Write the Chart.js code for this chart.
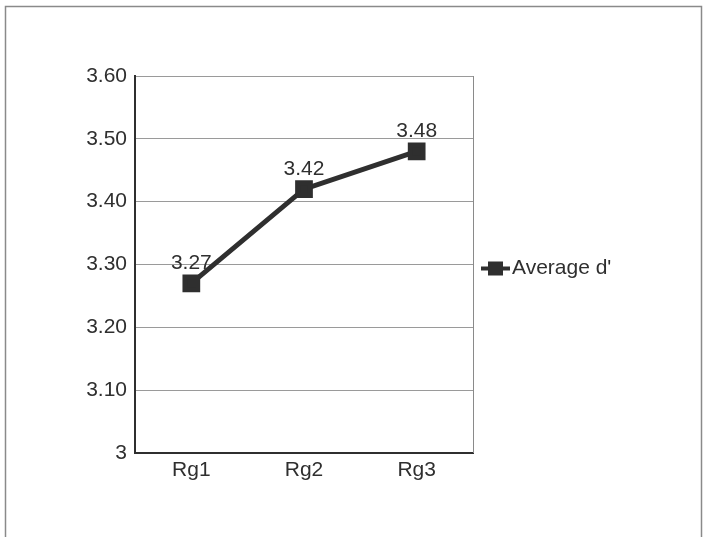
<!DOCTYPE html>
<html lang="en">
<head>
  <meta charset="UTF-8">
  <title>Average d'</title>
  <style>
    html, body { margin: 0; padding: 0; background: #fff; }
    .chart-box { width: 707px; height: 537px; }
  </style>
</head>
<body>
  <div class="chart-box">
    <canvas id="avgChart"></canvas>
  </div>

  <script src="https://cdn.jsdelivr.net/npm/chart.js"></script>
  <script>
    // data
    const categories = ['Rg1', 'Rg2', 'Rg3'];
    const averageD = [3.27, 3.42, 3.48];
    const yTickLabels = ['3', '3.10', '3.20', '3.30', '3.40', '3.50', '3.60'];
    const seriesName = "Average d'";

    const ink = '#2f2f2f';
    const font = { family: 'Liberation Sans, Arial, sans-serif', size: 21 };

    // outer frame, plot border, value labels and the side legend
    const extras = {
      id: 'extras',
      beforeDraw(chart) {
        const c = chart.ctx;
        c.save();
        c.strokeStyle = '#8a8a8a';
        c.lineWidth = 1.5;
        c.strokeRect(5.5, 6.5, 696, 540);
        c.restore();
      },
      afterDatasetsDraw(chart) {
        const c = chart.ctx;
        const area = chart.chartArea;
        c.save();
        // right edge of the plot
        c.strokeStyle = '#8a8a8a';
        c.lineWidth = 1;
        c.beginPath();
        c.moveTo(area.right + 0.5, area.top);
        c.lineTo(area.right + 0.5, area.bottom);
        c.stroke();

        // values above points
        c.fillStyle = ink;
        c.font = font.size + 'px ' + font.family;
        c.textAlign = 'center';
        c.textBaseline = 'middle';
        chart.getDatasetMeta(0).data.forEach((pt, i) => {
          c.fillText(averageD[i].toFixed(2), pt.x, pt.y - 20);
        });

        // legend
        const ly = (area.top + area.bottom) / 2 + 4;
        c.strokeStyle = ink;
        c.lineWidth = 4;
        c.beginPath();
        c.moveTo(481, ly);
        c.lineTo(510, ly);
        c.stroke();
        c.fillRect(488, ly - 7, 15, 14);
        c.textAlign = 'left';
        c.fillText(seriesName, 512, ly);
        c.restore();
      }
    };

    const ctx = document.getElementById('avgChart').getContext('2d');
    const avgChart = new Chart(ctx, {
      type: 'line',
      data: {
        labels: categories,
        datasets: [{
          label: seriesName,
          data: averageD,
          borderColor: ink,
          backgroundColor: ink,
          borderWidth: 5,
          pointStyle: 'rect',
          pointRadius: 9,
          pointHoverRadius: 9,
          tension: 0,
          fill: false
        }]
      },
      options: {
        responsive: true,
        maintainAspectRatio: false,
        animation: false,
        layout: {
          padding: { top: 76, right: 234, left: 0, bottom: 0 }
        },
        scales: {
          x: {
            offset: true,
            grid: { display: false, drawTicks: false },
            border: { color: ink, width: 2 },
            ticks: { color: ink, font: font, padding: 5 },
            afterFit(scale) { scale.height = 84; }
          },
          y: {
            min: 3,
            max: 3.6,
            grid: { color: '#9a9a9a', lineWidth: 1, drawTicks: false },
            border: { color: ink, width: 2 },
            ticks: {
              stepSize: 0.1,
              color: ink,
              font: font,
              padding: 8,
              callback: function (value, index) {
                return yTickLabels[index];
              }
            },
            afterFit(scale) { scale.width = 135; }
          }
        },
        plugins: {
          legend: { display: false },
          tooltip: { enabled: false }
        }
      },
      plugins: [extras]
    });
  </script>
</body>
</html>
